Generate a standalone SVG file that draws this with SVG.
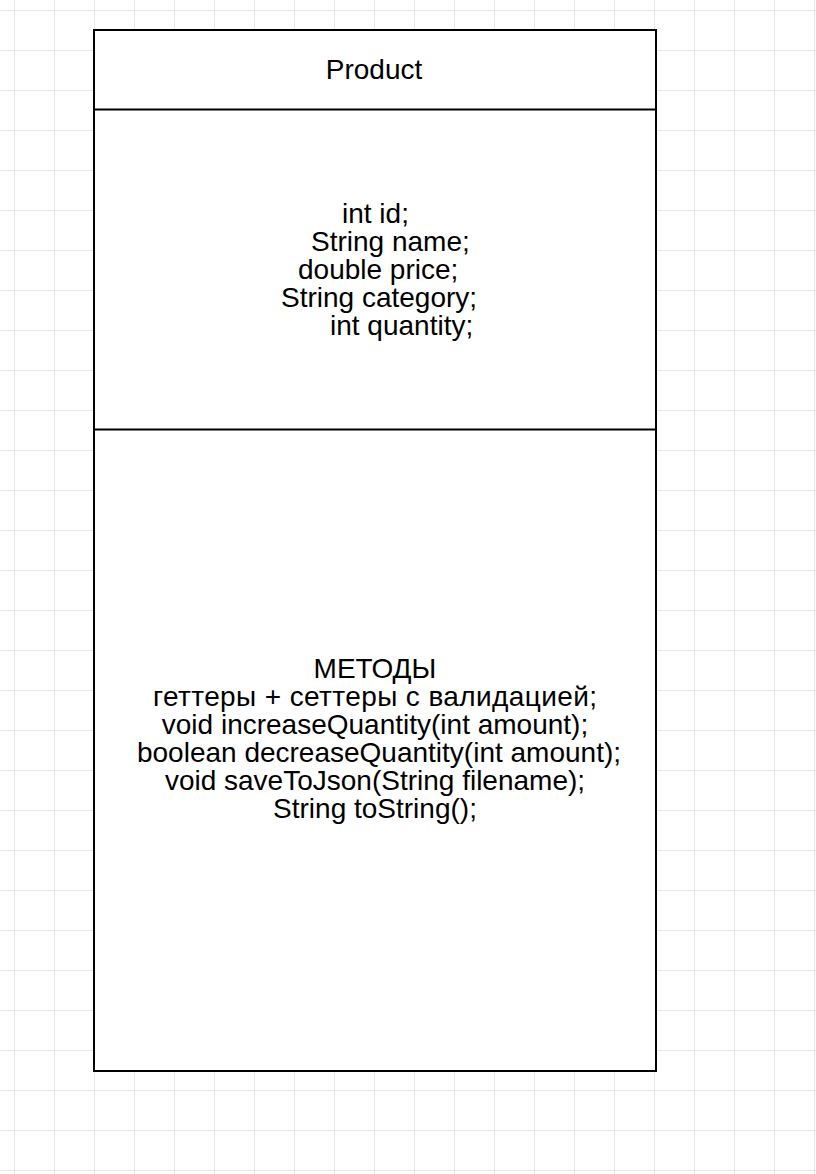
<svg xmlns="http://www.w3.org/2000/svg" width="816" height="1174" viewBox="0 0 816 1174">
<defs>
<pattern id="grid" x="14" y="10" width="40" height="40" patternUnits="userSpaceOnUse">
<path d="M0 0H40M0 0V40" fill="none" stroke="#e6e6e6" stroke-width="2"/>
</pattern>
</defs>
<style>
.box{fill:#ffffff;stroke:#000000;stroke-width:2}
.div{stroke:#000000;stroke-width:2}
.t{font-family:"Liberation Sans",Arial,Helvetica,sans-serif;font-size:28px;fill:#000000}
.c{text-anchor:middle}
</style>
<rect x="0" y="0" width="816" height="1174" fill="#ffffff"/>
<rect x="0" y="0" width="816" height="1174" fill="url(#grid)"/>
<g id="product-class">
<rect class="box" x="94" y="30" width="562" height="1041"/>
<line class="div" x1="94" y1="109.5" x2="656" y2="109.5"/>
<line class="div" x1="94" y1="429.5" x2="656" y2="429.5"/>
<text class="t c" x="374" y="79" font-size="27">Product</text>
</g>
<g id="attributes">
<text class="t" x="342" y="223">int id;</text>
<text class="t" x="311" y="251">String name;</text>
<text class="t" x="298" y="279">double price;</text>
<text class="t" x="281" y="307">String category;</text>
<text class="t" x="330" y="335">int quantity;</text>
</g>
<g id="methods">
<text class="t c" x="375" y="678">МЕТОДЫ</text>
<text class="t c" x="375" y="706" textLength="444">геттеры + сеттеры с валидацией;</text>
<text class="t c" x="375" y="734">void increaseQuantity(int amount);</text>
<text class="t c" x="379" y="762">boolean decreaseQuantity(int amount);</text>
<text class="t c" x="375" y="790">void saveToJson(String filename);</text>
<text class="t c" x="375" y="818">String toString();</text>
</g>
<g id="connectors"/>
</svg>
